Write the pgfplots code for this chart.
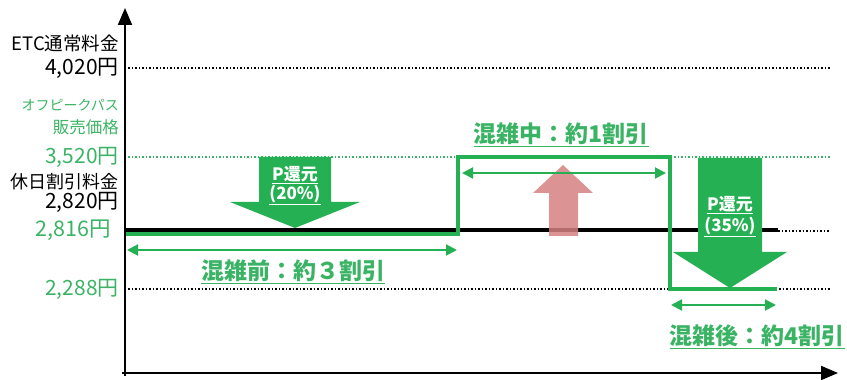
\documentclass[border=0pt]{standalone}
\usepackage{pgfplots}
\pgfplotsset{compat=1.18}
\usepackage{fontspec}
\setmainfont{Noto Sans CJK JP}
\usetikzlibrary{arrows.meta}
\definecolor{gline}{RGB}{38,176,84}
\definecolor{gtext}{RGB}{58,180,100}
\definecolor{pinkarr}{RGB}{214,128,128}
\newcommand{\fs}[1]{\fontsize{#1bp}{#1bp}\selectfont}
\begin{document}
\begin{tikzpicture}
\begin{axis}[width=847bp, height=376bp, scale only axis,
  xmin=0, xmax=847, ymin=0, ymax=376, hide axis, clip=false]
% frame of the picture (invisible)
\addplot[draw=none] coordinates {(0,0) (847,376)};
% dotted reference levels
\addplot[black, line width=1.5bp, dash pattern=on 1.5bp off 2bp] coordinates {(128,308) (830,308)};
\addplot[gtext, line width=1.5bp, dash pattern=on 1.5bp off 2bp] coordinates {(128,219) (830,219)};
\addplot[black, line width=1.5bp, dash pattern=on 1.5bp off 2bp] coordinates {(778,145) (830,145)};
\addplot[black, line width=1.5bp, dash pattern=on 1.5bp off 2bp] coordinates {(128,87) (830,87)};
% holiday discount line
\addplot[black, line width=4bp] coordinates {(125,145.5) (778,145.5)};
% big green arrows
\addplot[fill=gline, draw=none] coordinates {(259,219) (331,219) (331,174) (360,174) (295,148) (230,174) (259,174)} -- cycle;
\addplot[fill=gline, draw=none] coordinates {(698,218) (762,218) (762,124) (787,124) (730,88) (673,124) (698,124)} -- cycle;
% pink up arrow
\addplot[fill=pinkarr, fill opacity=0.85, draw=none] coordinates {(549,140) (578,140) (578,183) (593,183) (563,211) (533,183) (549,183)} -- cycle;
% off-peak step line
\addplot[gline, line width=3.2bp, line join=miter] coordinates {(126,142) (458,142) (458,219) (670,219) (670,87) (777,87)};
% double arrows
\addplot[gline, line width=2bp, {Triangle[length=11bp,width=11bp]}-{Triangle[length=11bp,width=11bp]}] coordinates {(127,126) (457,126)};
\addplot[gline, line width=2bp, {Triangle[length=11bp,width=11bp]}-{Triangle[length=11bp,width=11bp]}] coordinates {(462,203) (666,203)};
\addplot[gline, line width=2bp, {Triangle[length=11bp,width=11bp]}-{Triangle[length=11bp,width=11bp]}] coordinates {(671,71) (776,71)};
% axes
\addplot[black, line width=2bp, -{Triangle[length=17bp,width=14bp]}] coordinates {(125,0) (125,368)};
\addplot[black, line width=2bp, -{Triangle[length=17bp,width=14bp]}] coordinates {(122,3) (838,3)};
% left labels
\node[anchor=east, inner sep=0pt] at (axis cs:119,333) {\fs{18.5}ETC通常料金};
\node[anchor=east, inner sep=0pt] at (axis cs:119,308) {\fs{21}4,020円};
\node[anchor=east, inner sep=0pt, text=gtext] at (axis cs:119,271) {\fs{14}オフピークパス};
\node[anchor=east, inner sep=0pt, text=gtext] at (axis cs:119,249) {\fs{16.5}販売価格};
\node[anchor=east, inner sep=0pt, text=gtext] at (axis cs:119,219) {\fs{21}3,520円};
\node[anchor=east, inner sep=0pt] at (axis cs:119,194) {\fs{18}休日割引料金};
\node[anchor=east, inner sep=0pt] at (axis cs:119,174) {\fs{21}2,820円};
\node[anchor=east, inner sep=0pt, text=gtext] at (axis cs:111,146) {\fs{21.5}2,816円};
\node[anchor=east, inner sep=0pt, text=gtext] at (axis cs:119,87) {\fs{21}2,288円};
% period labels
\node[inner sep=0pt, text=gtext] at (axis cs:293,104) {\fs{23}\bfseries\underline{混雑前：約３割引}};
\node[inner sep=0pt, text=gtext] at (axis cs:561,241) {\fs{23}\bfseries\underline{混雑中：約1割引}};
\node[inner sep=0pt, text=gtext] at (axis cs:757,39) {\fs{23}\bfseries\underline{混雑後：約4割引}};
% arrow texts
\node[inner sep=0pt, text=white] at (axis cs:295,201) {\fs{17}\bfseries\underline{P還元}};
\node[inner sep=0pt, text=white] at (axis cs:295,181) {\fs{17}\bfseries\underline{(20\%)}};
\node[inner sep=0pt, text=white] at (axis cs:730,171) {\fs{17}\bfseries\underline{P還元}};
\node[inner sep=0pt, text=white] at (axis cs:730,149) {\fs{17}\bfseries\underline{(35\%)}};
\end{axis}
\end{tikzpicture}
\end{document}
